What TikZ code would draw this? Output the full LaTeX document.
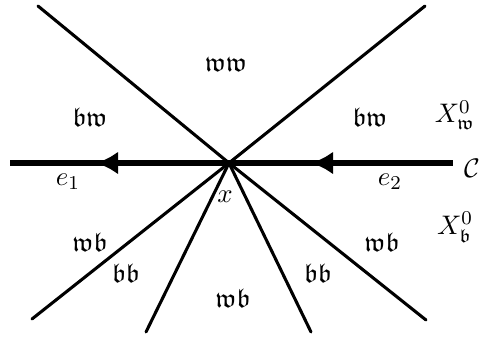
\documentclass[tikz,border=0pt]{standalone}
\usepackage{amssymb}
\usetikzlibrary{arrows.meta}
\tikzset{
  ray/.style={line width=1.25pt, line cap=round},
  curveC/.style={line width=2.8pt},
  arr/.style={-{Latex[length=9pt,width=9.4pt]}},
  lbl/.style={inner sep=0pt, font=\fontsize{11pt}{13pt}\selectfont}
}
\begin{document}
\begin{tikzpicture}[x=0.408pt,y=-0.408pt]
\useasboundingbox (0,0) rectangle (481,336);
% coordinates
\coordinate (O) at (229,163);
\coordinate (UL) at (38,6);
\coordinate (UR) at (425,6);
\coordinate (LL1) at (32,319);
\coordinate (LL2) at (146,332);
\coordinate (LR2) at (311,332);
\coordinate (LR1) at (426,320);
\coordinate (L) at (10,163);
\coordinate (R) at (453,163);
\coordinate (A1) at (96,163);
\coordinate (B1) at (130,163);
\coordinate (A2) at (311,163);
\coordinate (B2) at (345,163);
% rays
\draw[ray] (UL) -- (O);
\draw[ray] (UR) -- (O);
\draw[ray] (LL1) -- (O);
\draw[ray] (LL2) -- (O);
\draw[ray] (LR2) -- (O);
\draw[ray] (LR1) -- (O);
% curve C
\draw[curveC] (R) -- (L);
\draw[curveC,arr] (B2) -- (A2);
\draw[curveC,arr] (B1) -- (A1);
% labels
\node[lbl] (ww) at (226,64) {$\mathfrak{w}\mathfrak{w}$};
\node[lbl] (bwl) at (90,117) {$\mathfrak{b}\mathfrak{w}$};
\node[lbl] (bwr) at (370,117) {$\mathfrak{b}\mathfrak{w}$};
\node[lbl] (Xw) at (455,115) {$X^0_{\mathfrak{w}}$};
\node[lbl] (C) at (472,168) {$\mathcal{C}$};
\node[lbl] (e1) at (68,182) {$e_1$};
\node[lbl] (e2) at (390,182) {$e_2$};
\node[lbl] (xl) at (225,197) {$x$};
\node[lbl] (Xb) at (455,227) {$X^0_{\mathfrak{b}}$};
\node[lbl] (wbl) at (90,242) {$\mathfrak{w}\mathfrak{b}$};
\node[lbl] (bbl) at (126,273) {$\mathfrak{b}\mathfrak{b}$};
\node[lbl] (wbc) at (233,298) {$\mathfrak{w}\mathfrak{b}$};
\node[lbl] (bbr) at (318,273) {$\mathfrak{b}\mathfrak{b}$};
\node[lbl] (wbr) at (382,242) {$\mathfrak{w}\mathfrak{b}$};
\end{tikzpicture}
\end{document}
